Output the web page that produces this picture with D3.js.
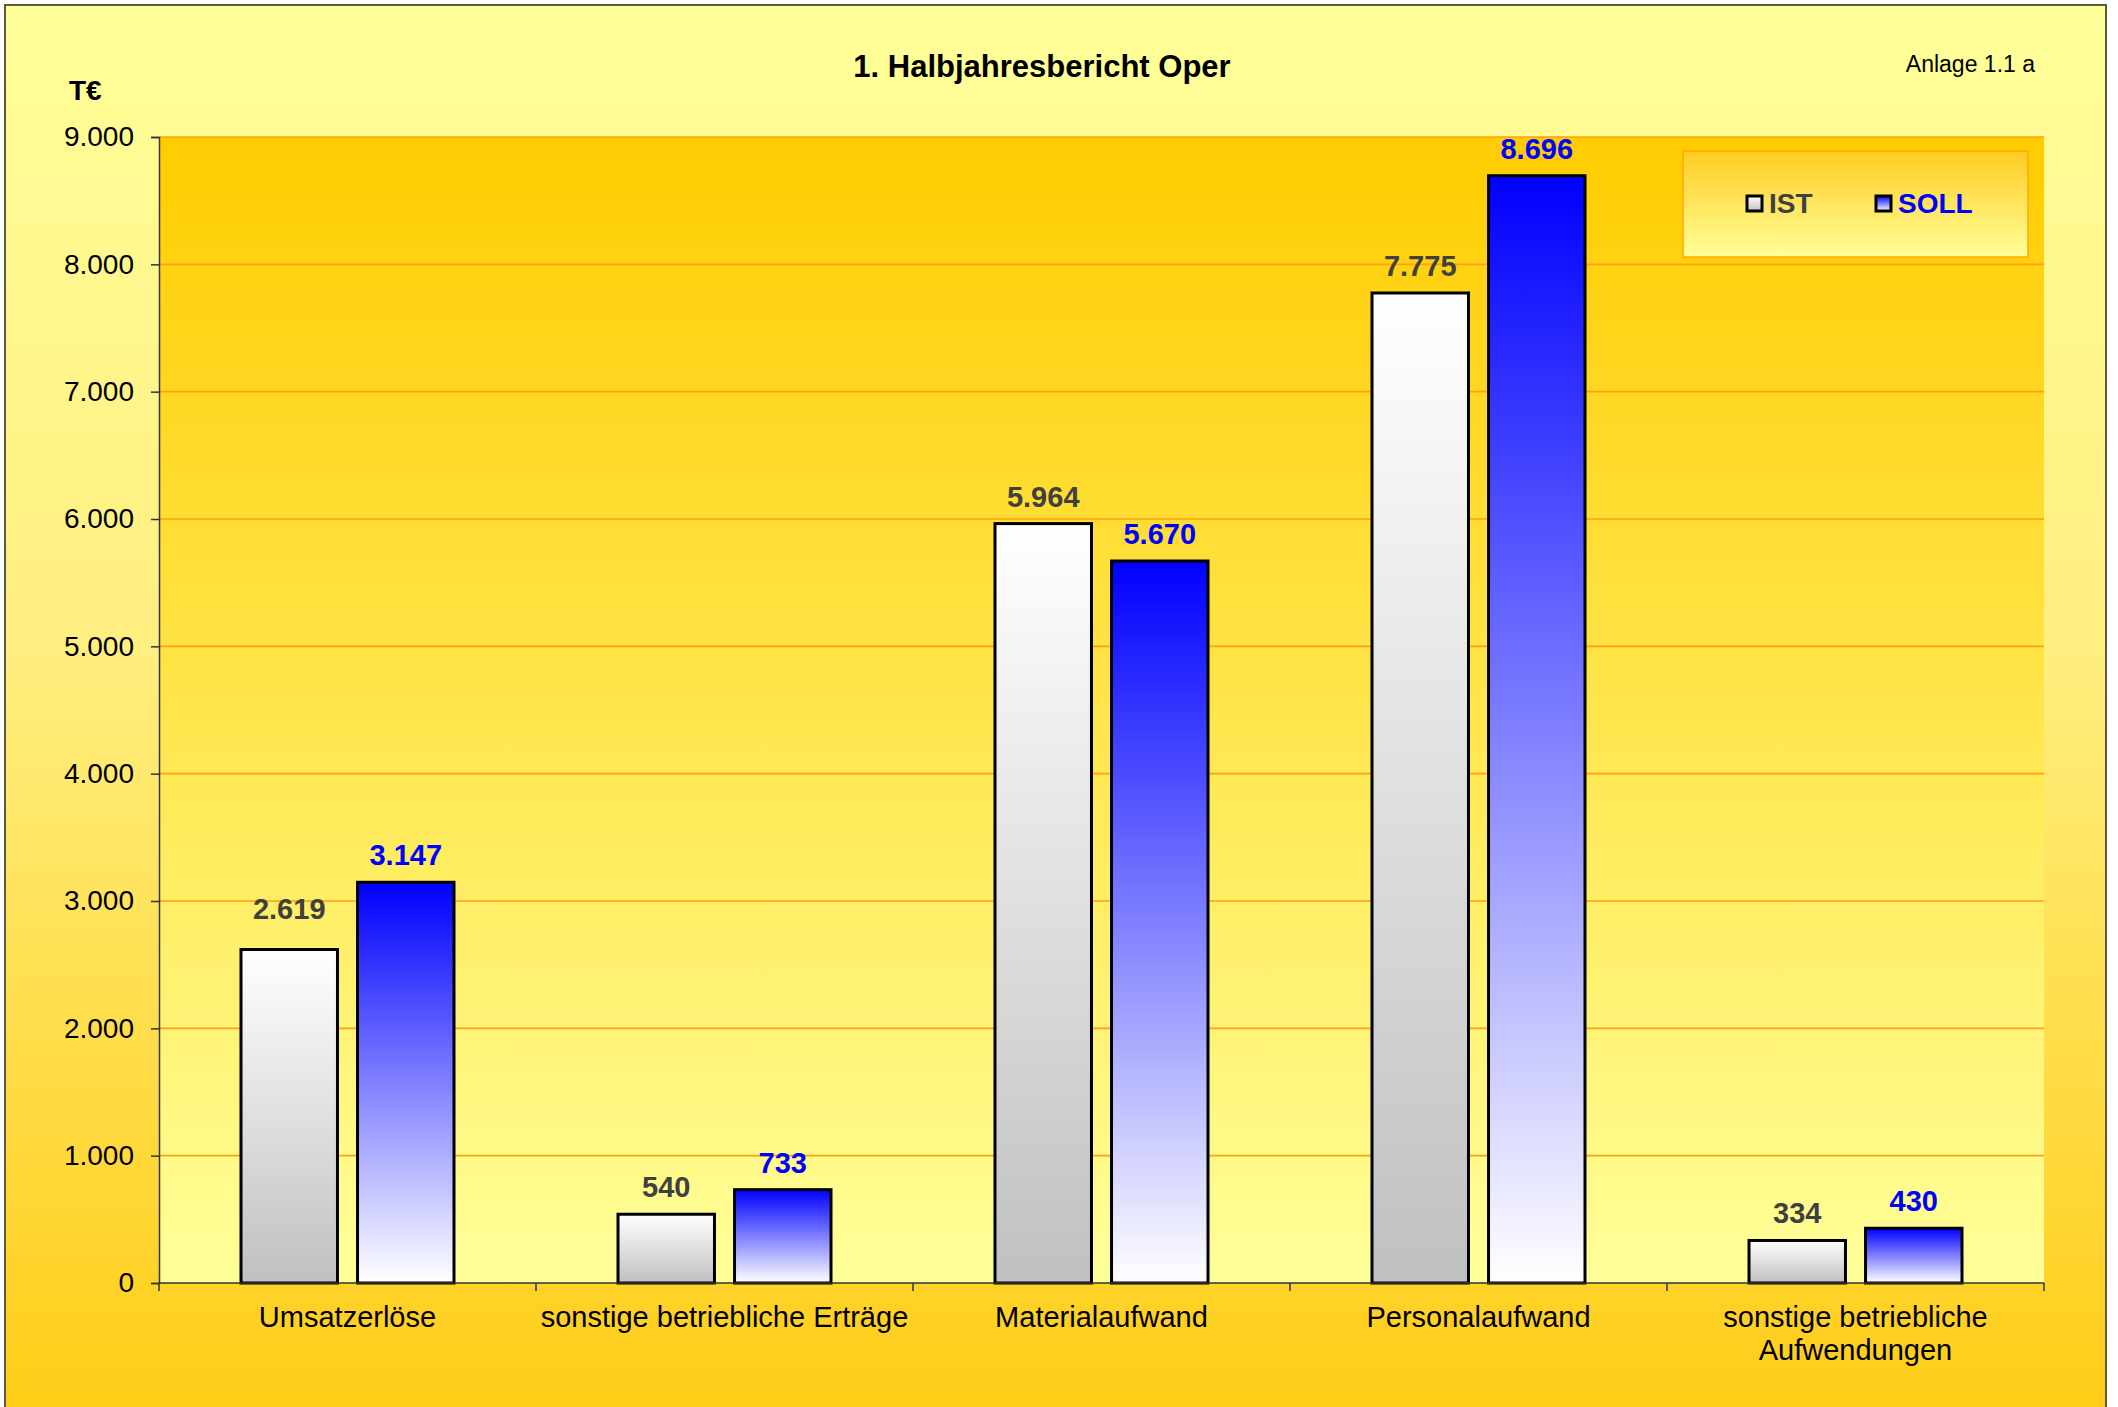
<!DOCTYPE html>
<html>
<head>
<meta charset="utf-8">
<script src="https://cdn.jsdelivr.net/npm/d3@7"></script>
<style>
  html, body { margin: 0; padding: 0; background: #ffffff; }
  svg { display: block; font-family: "Liberation Sans", Arial, sans-serif; }
</style>
</head>
<body>
<svg id="chart" width="2118" height="1407"></svg>
<script>
// ---------------------------------------------------------------------------
// Data
// ---------------------------------------------------------------------------
const categories = [
  'Umsatzerlöse',
  'sonstige betriebliche Erträge',
  'Materialaufwand',
  'Personalaufwand',
  'sonstige betriebliche Aufwendungen'
];
const seriesNames = ['IST', 'SOLL'];
const istValues = [2619, 540, 5964, 7775, 334];
const sollValues = [3147, 733, 5670, 8696, 430];
const yTicks = [0, 1000, 2000, 3000, 4000, 5000, 6000, 7000, 8000, 9000];

// ---------------------------------------------------------------------------
// Layout
// ---------------------------------------------------------------------------
const W = 2118, H = 1407;
const plot = { left: 159, right: 2044, top: 137, bottom: 1283 };
const labelColors = { IST: '#404040', SOLL: '#0000ff' };
const fmt = d3.formatLocale({ decimal: ',', thousands: '.', grouping: [3], currency: ['', '€'] }).format(',d');

const svg = d3.select('#chart');
const defs = svg.append('defs');

function vGradient(id, stops) {
  const g = defs.append('linearGradient')
    .attr('id', id)
    .attr('x1', 0).attr('y1', 0).attr('x2', 0).attr('y2', 1);
  stops.forEach(([o, c]) => g.append('stop').attr('offset', o).attr('stop-color', c));
}

vGradient('outerBg', [[0, '#ffff99'], [0.45, '#ffee80'], [1, '#ffcc14']]);
vGradient('plotBg', [[0, '#ffcc00'], [1, '#ffff99']]);
vGradient('legendBg', [[0, '#ffcc22'], [1, '#ffff99']]);
vGradient('fillIST', [[0, '#ffffff'], [1, '#c0c0c0']]);
vGradient('fillSOLL', [[0, '#0000ff'], [1, '#ffffff']]);

// outer chart area
svg.append('rect')
  .attr('x', 5).attr('y', 5)
  .attr('width', 2101).attr('height', H + 20)
  .attr('fill', 'url(#outerBg)')
  .attr('stroke', '#5e5a3c')
  .attr('stroke-width', 2);

// plot area
svg.append('rect')
  .attr('x', plot.left).attr('y', plot.top)
  .attr('width', plot.right - plot.left)
  .attr('height', plot.bottom - plot.top)
  .attr('fill', 'url(#plotBg)');

// ---------------------------------------------------------------------------
// Scales
// ---------------------------------------------------------------------------
const y = d3.scaleLinear().domain([0, 9000]).range([plot.bottom, plot.top]);
const x0 = d3.scaleBand().domain(categories).range([plot.left, plot.right]).padding(0);
const groupPad = 82;
const x1 = d3.scaleBand().domain(seriesNames)
  .range([groupPad, x0.bandwidth() - groupPad])
  .paddingInner(0.172);

// gridlines
svg.append('g')
  .selectAll('line')
  .data(yTicks.filter(t => t > 0))
  .join('line')
  .attr('x1', plot.left).attr('x2', plot.right)
  .attr('y1', d => y(d)).attr('y2', d => y(d))
  .attr('stroke', '#ffa010')
  .attr('stroke-width', 1.6);

// ---------------------------------------------------------------------------
// Bars
// ---------------------------------------------------------------------------
const rows = categories.map((c, i) => ({
  category: c,
  values: [
    { key: 'IST', value: istValues[i], lift: i === 0 ? 14 : 0 },
    { key: 'SOLL', value: sollValues[i], lift: 0 }
  ]
}));

const groups = svg.append('g')
  .selectAll('g')
  .data(rows)
  .join('g')
  .attr('transform', d => `translate(${x0(d.category)},0)`);

groups.selectAll('rect')
  .data(d => d.values)
  .join('rect')
  .attr('x', d => x1(d.key))
  .attr('y', d => y(d.value))
  .attr('width', x1.bandwidth())
  .attr('height', d => y(0) - y(d.value))
  .attr('fill', d => `url(#fill${d.key})`)
  .attr('stroke', '#000')
  .attr('stroke-width', 3);

groups.selectAll('text.val')
  .data(d => d.values)
  .join('text')
  .attr('class', 'val')
  .attr('x', d => x1(d.key) + x1.bandwidth() / 2)
  .attr('y', d => y(d.value) - 17 - d.lift)
  .attr('text-anchor', 'middle')
  .attr('font-size', 29)
  .attr('font-weight', 'bold')
  .attr('fill', d => labelColors[d.key])
  .text(d => fmt(d.value));

// ---------------------------------------------------------------------------
// Axes
// ---------------------------------------------------------------------------
const yAxis = svg.append('g')
  .attr('transform', `translate(${plot.left},0)`)
  .call(d3.axisLeft(y).tickValues(yTicks).tickFormat(fmt).tickSizeOuter(0).tickSize(8).tickPadding(17));
yAxis.select('.domain').attr('stroke', '#333').attr('stroke-width', 1.5);
yAxis.selectAll('.tick line').attr('stroke', '#333').attr('stroke-width', 1.5);
yAxis.selectAll('.tick text')
  .attr('font-size', 28)
  .attr('font-family', '"Liberation Sans", Arial, sans-serif')
  .attr('fill', '#000');

// x axis line and boundary ticks
const xAxis = svg.append('g');
xAxis.append('line')
  .attr('x1', plot.left).attr('x2', plot.right)
  .attr('y1', plot.bottom).attr('y2', plot.bottom)
  .attr('stroke', '#333').attr('stroke-width', 1.5);
const bounds = categories.map(c => x0(c)).concat([plot.right]);
xAxis.selectAll('line.tk')
  .data(bounds)
  .join('line')
  .attr('class', 'tk')
  .attr('x1', d => d).attr('x2', d => d)
  .attr('y1', plot.bottom).attr('y2', plot.bottom + 8)
  .attr('stroke', '#333').attr('stroke-width', 1.5);

// category labels, wrapped to the band width
const catText = xAxis.selectAll('text.cat')
  .data(categories)
  .join('text')
  .attr('class', 'cat')
  .attr('x', d => x0(d) + x0.bandwidth() / 2)
  .attr('y', plot.bottom + 44)
  .attr('text-anchor', 'middle')
  .attr('font-size', 29)
  .attr('fill', '#000');

catText.each(function(d) {
  const text = d3.select(this);
  const cx = +text.attr('x');
  const words = d.split(' ');
  let line = [];
  let tspan = text.append('tspan').attr('x', cx);
  words.forEach(w => {
    line.push(w);
    tspan.text(line.join(' '));
    if (tspan.node().getComputedTextLength() > x0.bandwidth() - 2 && line.length > 1) {
      line.pop();
      tspan.text(line.join(' '));
      line = [w];
      tspan = text.append('tspan').attr('x', cx).attr('dy', 33).text(w);
    }
  });
});

// ---------------------------------------------------------------------------
// Titles
// ---------------------------------------------------------------------------
svg.append('text')
  .attr('x', 1042).attr('y', 77)
  .attr('text-anchor', 'middle')
  .attr('font-size', 31)
  .attr('font-weight', 'bold')
  .text('1. Halbjahresbericht Oper');

svg.append('text')
  .attr('x', 69).attr('y', 100)
  .attr('font-size', 28)
  .attr('font-weight', 'bold')
  .text('T€');

svg.append('text')
  .attr('x', 2035).attr('y', 72)
  .attr('text-anchor', 'end')
  .attr('font-size', 23)
  .text('Anlage 1.1 a');

// ---------------------------------------------------------------------------
// Legend
// ---------------------------------------------------------------------------
const legend = svg.append('g');
legend.append('rect')
  .attr('x', 1683).attr('y', 151)
  .attr('width', 345).attr('height', 106)
  .attr('fill', 'url(#legendBg)')
  .attr('stroke', '#ffaa00')
  .attr('stroke-width', 1.5);

const legendX = [1747, 1876];
const items = legend.selectAll('g.item')
  .data(seriesNames)
  .join('g')
  .attr('class', 'item')
  .attr('transform', (d, i) => `translate(${legendX[i]},196)`);

items.append('rect')
  .attr('width', 15).attr('height', 15)
  .attr('fill', d => `url(#fill${d})`)
  .attr('stroke', '#000')
  .attr('stroke-width', 3);

items.append('text')
  .attr('x', 22).attr('y', 17)
  .attr('font-size', 28)
  .attr('font-weight', 'bold')
  .attr('fill', d => labelColors[d])
  .text(d => d);
</script>
</body>
</html>
